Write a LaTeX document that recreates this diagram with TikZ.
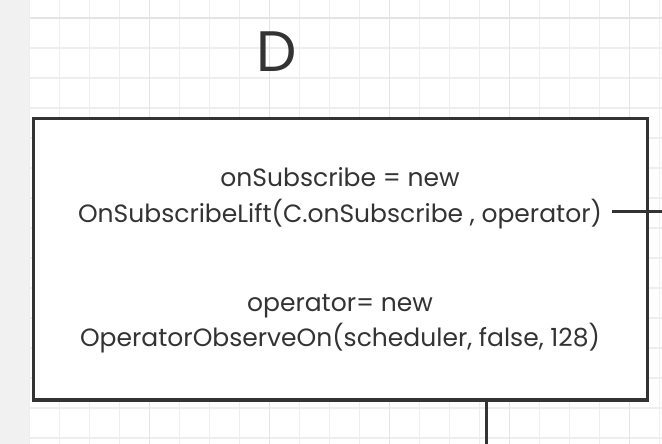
\documentclass[tikz,border=0pt]{standalone}
\usepackage{fontspec}
\setmainfont{Poppins}
\definecolor{ink}{HTML}{333333}
\definecolor{gridminor}{HTML}{EEEEEE}
\definecolor{gridmajor}{HTML}{E4E4E4}
\definecolor{sidebar}{HTML}{F1F1F1}
\tikzset{
  codeline/.style={anchor=base, text=ink, inner xsep=10pt, inner ysep=0pt, font=\fontsize{25}{30}\selectfont},
  wire/.style={draw=ink, line width=3pt}
}

\begin{document}
\begin{tikzpicture}[x=1pt, y=-1pt]
\useasboundingbox (0,0) rectangle (662,444);
\fill[sidebar] (0,0) rectangle (29.5,444);
% grid
\foreach \gx in {29.5,59.5,...,662} \draw[gridminor, line width=1.5pt] (\gx,0) -- (\gx,444);
\foreach \gy in {18,48,...,444} \draw[gridminor, line width=1.5pt] (29.5,\gy) -- (662,\gy);
\foreach \gx in {149.5,269.5,...,662} \draw[gridmajor, line width=1.8pt] (\gx,0) -- (\gx,444);
\draw[gridmajor, line width=1.8pt] (29.5,18) -- (662,18);

\node[text=ink, font=\fontsize{57}{60}\selectfont] (title) at (276.5,52) {D};
\node[draw=ink, line width=3.5pt, fill=white, minimum width=614pt, minimum height=281.5pt] (box) at (340.5,259.25) {};

\node[codeline] (subline) at (340,186) {onSubscribe = new};
\node[codeline] (liftline) at (340,222) {OnSubscribeLift(C.onSubscribe , operator)};
\node[codeline] (opline) at (340,311) {operator= new};
\node[codeline] (observeline) at (340,346) {OperatorObserveOn(scheduler, false, 128)};

\coordinate (toright) at (662,211);
\coordinate (todown) at (486,444);
\draw[wire] (liftline.east |- toright) -- (toright);
\draw[wire] (box.south -| todown) -- (todown);
\end{tikzpicture}
\end{document}
